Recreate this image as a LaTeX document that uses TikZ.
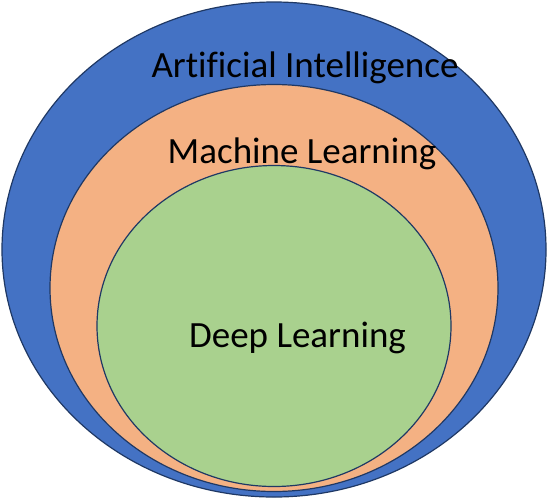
\documentclass[tikz,border=0pt]{standalone}
\usepackage{fontspec}
\setmainfont[Ligatures=NoCommon]{Carlito}
\usepackage{xcolor}
\usepackage{tikz}
\usetikzlibrary{shapes.geometric}
\definecolor{aiblue}{RGB}{68,114,196}
\definecolor{mlorange}{RGB}{244,177,131}
\definecolor{dlgreen}{RGB}{169,209,142}
\definecolor{rimblue}{RGB}{31,56,100}
\tikzstyle{field}=[ellipse,draw=rimblue,line width=1.2pt,inner sep=0pt]
\tikzstyle{fieldname}=[anchor=base,inner sep=0pt,font=\fontsize{37}{40}\selectfont]
\begin{document}
\begin{tikzpicture}[x=1pt,y=-1pt]
				\useasboundingbox (0,0) rectangle (548,499);
				\node[field,fill=aiblue,minimum width=544pt,minimum height=495pt]   (ai) at (274,249.5) {};
				\node[field,fill=mlorange,minimum width=448pt,minimum height=407pt] (ml) at (274,288) {};
				\node[field,fill=dlgreen,minimum width=354pt,minimum height=321pt]  (dl) at (274,326) {};
				\node[fieldname] (ai-name) at (305,77)    {Artificial Intelligence};
				\node[fieldname] (ml-name) at (302,163)   {Machine Learning};
				\node[fieldname] (dl-name) at (297.5,347) {Deep Learning};
				\end{tikzpicture}
\end{document}
